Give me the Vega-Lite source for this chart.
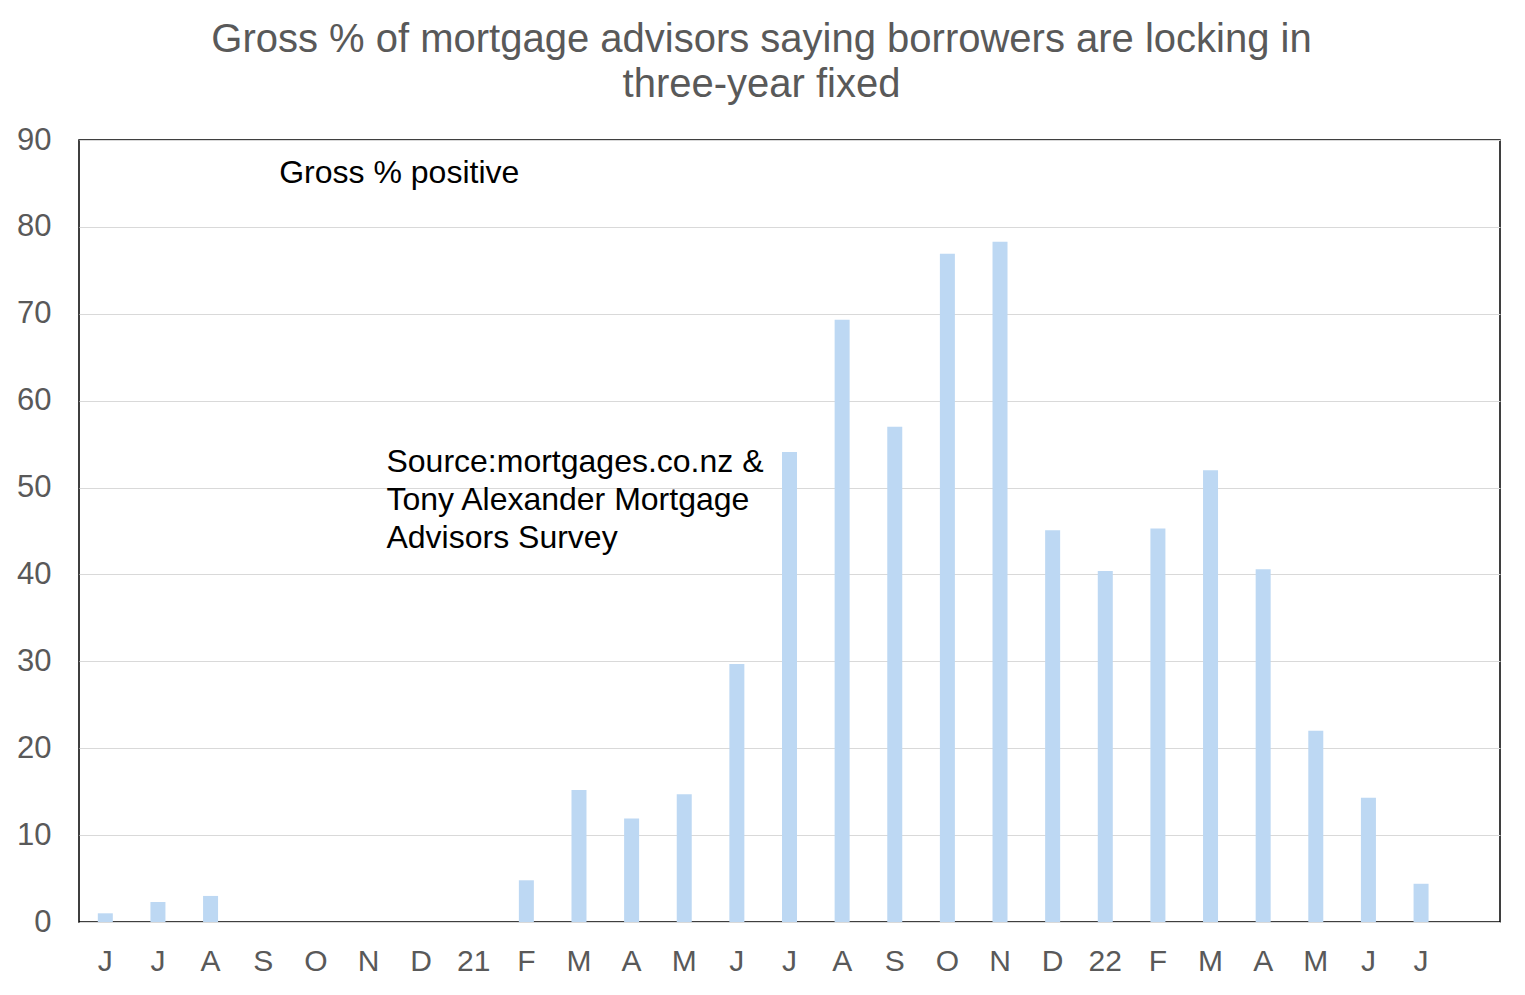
{
  "$schema": "https://vega.github.io/schema/vega-lite/v6.json",
  "width": 1421,
  "height": 782,
  "autosize": "none",
  "padding": {"left": 79, "top": 140, "right": 25, "bottom": 73},
  "background": "white",
  "title": {
    "text": ["Gross % of mortgage advisors saying borrowers are locking in", "three-year fixed"],
    "font": "Liberation Sans",
    "fontSize": 40,
    "fontWeight": "normal",
    "color": "#595959",
    "lineHeight": 45,
    "anchor": "middle",
    "dx": -28,
    "offset": 19
  },
  "data": {
    "values": [
      {"month": "2020-06", "value": 1.0},
      {"month": "2020-07", "value": 2.3},
      {"month": "2020-08", "value": 3.0},
      {"month": "2020-09", "value": 0},
      {"month": "2020-10", "value": 0},
      {"month": "2020-11", "value": 0},
      {"month": "2020-12", "value": 0},
      {"month": "2021-01", "value": 0},
      {"month": "2021-02", "value": 4.8},
      {"month": "2021-03", "value": 15.2},
      {"month": "2021-04", "value": 11.9},
      {"month": "2021-05", "value": 14.7},
      {"month": "2021-06", "value": 29.7},
      {"month": "2021-07", "value": 54.1},
      {"month": "2021-08", "value": 69.3},
      {"month": "2021-09", "value": 57.0},
      {"month": "2021-10", "value": 76.9},
      {"month": "2021-11", "value": 78.3},
      {"month": "2021-12", "value": 45.1},
      {"month": "2022-01", "value": 40.4},
      {"month": "2022-02", "value": 45.3},
      {"month": "2022-03", "value": 52.0},
      {"month": "2022-04", "value": 40.6},
      {"month": "2022-05", "value": 22.0},
      {"month": "2022-06", "value": 14.3},
      {"month": "2022-07", "value": 4.4}
    ]
  },
  "encoding": {
    "x": {
      "field": "month",
      "type": "nominal",
      "sort": null,
      "scale": {
        "domain": ["2020-06","2020-07","2020-08","2020-09","2020-10","2020-11","2020-12","2021-01","2021-02","2021-03","2021-04","2021-05","2021-06","2021-07","2021-08","2021-09","2021-10","2021-11","2021-12","2022-01","2022-02","2022-03","2022-04","2022-05","2022-06","2022-07","2022-08"],
        "paddingInner": 0,
        "paddingOuter": 0
      },
      "axis": {
        "title": null,
        "labelAngle": 0,
        "ticks": false,
        "domain": false,
        "labelPadding": 24,
        "labelFont": "Liberation Sans",
        "labelFontSize": 30,
        "labelColor": "#595959",
        "labelExpr": "{'2020-06':'J','2020-07':'J','2020-08':'A','2020-09':'S','2020-10':'O','2020-11':'N','2020-12':'D','2021-01':'21','2021-02':'F','2021-03':'M','2021-04':'A','2021-05':'M','2021-06':'J','2021-07':'J','2021-08':'A','2021-09':'S','2021-10':'O','2021-11':'N','2021-12':'D','2022-01':'22','2022-02':'F','2022-03':'M','2022-04':'A','2022-05':'M','2022-06':'J','2022-07':'J','2022-08':''}[datum.value]"
      }
    }
  },
  "layer": [
    {
      "mark": {"type": "bar", "size": 15, "color": "#bdd8f3"},
      "encoding": {
        "y": {
          "field": "value",
          "type": "quantitative",
          "scale": {"domain": [0, 90], "nice": false},
          "axis": {
            "title": null,
            "values": [0,10,20,30,40,50,60,70,80,90],
            "ticks": false,
            "domain": false,
            "labelPadding": 28,
            "labelFont": "Liberation Sans",
            "labelFontSize": 31,
            "labelColor": "#595959",
            "gridColor": "#d9d9d9",
            "gridWidth": 1.2
          }
        }
      }
    },
    {
      "data": {"values": [{"month": "2020-09", "value": 86.2, "text": "Gross % positive"}]},
      "mark": {"type": "text", "align": "left", "baseline": "middle", "dx": 16, "font": "Liberation Sans", "fontSize": 32, "color": "black"},
      "encoding": {
        "y": {"field": "value", "type": "quantitative"},
        "text": {"field": "text"}
      }
    },
    {
      "data": {"values": [{"month": "2020-11", "value": 52.9, "text": "Source:mortgages.co.nz  &\nTony Alexander  Mortgage\nAdvisors Survey"}]},
      "mark": {"type": "text", "align": "left", "baseline": "middle", "dx": 18, "lineBreak": "\n", "lineHeight": 38, "font": "Liberation Sans", "fontSize": 32, "color": "black"},
      "encoding": {
        "y": {"field": "value", "type": "quantitative"},
        "text": {"field": "text"}
      }
    }
  ],
  "config": {
    "view": {"stroke": "black", "strokeWidth": 1.5}
  }
}
